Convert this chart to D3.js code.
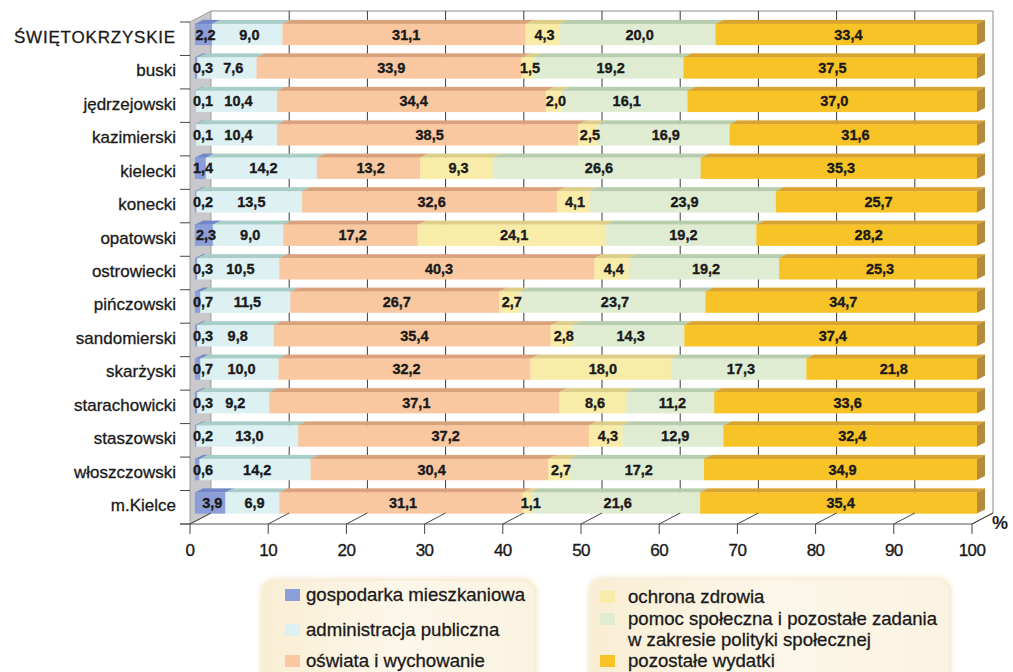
<!DOCTYPE html>
<html><head><meta charset="utf-8">
<script src="https://cdn.jsdelivr.net/npm/d3@7"></script>
<style>
html,body{margin:0;padding:0;background:#fff;}
svg{display:block;font-family:"Liberation Sans",Arial,sans-serif;}
</style></head>
<body><svg id="c" width="1013" height="672"></svg>
<script>
const categories = ["ŚWIĘTOKRZYSKIE","buski","jędrzejowski","kazimierski","kielecki","konecki","opatowski","ostrowiecki","pińczowski","sandomierski","skarżyski","starachowicki","staszowski","włoszczowski","m.Kielce"];
const seriesNames = ["gospodarka mieszkaniowa","administracja publiczna","oświata i wychowanie","ochrona zdrowia","pomoc społeczna i pozostałe zadania w zakresie polityki społecznej","pozostałe wydatki"];
const gospodarka = [2.2,0.3,0.1,0.1,1.4,0.2,2.3,0.3,0.7,0.3,0.7,0.3,0.2,0.6,3.9];
const administracja = [9.0,7.6,10.4,10.4,14.2,13.5,9.0,10.5,11.5,9.8,10.0,9.2,13.0,14.2,6.9];
const oswiata = [31.1,33.9,34.4,38.5,13.2,32.6,17.2,40.3,26.7,35.4,32.2,37.1,37.2,30.4,31.1];
const ochrona = [4.3,1.5,2.0,2.5,9.3,4.1,24.1,4.4,2.7,2.8,18.0,8.6,4.3,2.7,1.1];
const pomoc = [20.0,19.2,16.1,16.9,26.6,23.9,19.2,19.2,23.7,14.3,17.3,11.2,12.9,17.2,21.6];
const pozostale = [33.4,37.5,37.0,31.6,35.3,25.7,28.2,25.3,34.7,37.4,21.8,33.6,32.4,34.9,35.4];
const xTicks = [0,10,20,30,40,50,60,70,80,90,100];

const series = [gospodarka, administracja, oswiata, ochrona, pomoc, pozostale];
const frontCol = ["#8c9ed8","#ddf0f2","#f9c8a0","#f8eca8","#dfecd2","#f8c327"];
const topCol   = ["#7286c9","#a9cec8","#d9a27d","#dccd88","#b8ccae","#d9a331"];
const sideCol = "#b48a3d";
const ink = "#1a1a1a";

const svg = d3.select("#c");
const x0 = 190, x1 = 972, yTop = 22, yBot = 524;
const DX = 21, DY = -11;
const BX = 5, bdx = 8, bdy = -4;
const x = d3.scaleLinear().domain([0,100]).range([x0,x1]);
const y = d3.scaleBand().domain(categories).range([yTop,yBot]).padding(0);

svg.append("path").attr("d", `M${x0},${yTop}L${x0+DX},${yTop+DY}L${x0+DX},${yBot+DY}L${x0},${yBot}Z`)
  .attr("fill","#c9c9cb").attr("stroke","#8a8a8a").attr("stroke-width",0.8);
svg.append("path").attr("d", `M${x0+DX},${yTop+DY}L${x1+DX},${yTop+DY}L${x1+DX},${yBot+DY}`)
  .attr("fill","none").attr("stroke","#8c8c8c").attr("stroke-width",1);
svg.append("g").selectAll("line").data(xTicks.slice(1,-1)).join("line")
  .attr("x1",d=>x(d)+DX).attr("x2",d=>x(d)+DX).attr("y1",yTop+DY).attr("y2",yBot+DY)
  .attr("stroke","#3a3a3a").attr("stroke-width",1);

const stacked = categories.map((c,i)=>{
  let acc = 0;
  return series.map((s,k)=>{ const a=acc; acc+=s[i]; return {cat:c,k,v:s[i],a,b:acc}; });
});
const gb = svg.append("g");
stacked.forEach((segs,i)=>{
  const c = categories[i];
  const fy0 = y(c) + 2, fy1 = y(c) + 23;
  const g = gb.append("g");
  g.selectAll("path.top").data(segs).join("path").attr("class","top")
    .attr("d",d=>{const L=x(d.a)+BX, R=x(d.b)+BX;
      return `M${L},${fy0}L${R},${fy0}L${R+bdx},${fy0+bdy}L${L+bdx},${fy0+bdy}Z`;})
    .attr("fill",d=>topCol[d.k]).attr("stroke",d=>topCol[d.k]).attr("stroke-width",0.3);
  g.selectAll("rect.front").data(segs).join("rect").attr("class","front")
    .attr("x",d=>x(d.a)+BX).attr("y",fy0).attr("width",d=>x(d.b)-x(d.a)).attr("height",fy1-fy0)
    .attr("fill",d=>frontCol[d.k]).attr("stroke",d=>frontCol[d.k]).attr("stroke-width",0.3);
  const R = x(100)+BX;
  g.append("path").attr("d",`M${R},${fy0}L${R+bdx},${fy0+bdy}L${R+bdx},${fy1+bdy}L${R},${fy1}Z`).attr("fill",sideCol);
  const labels = g.selectAll("text").data(segs).join("text")
    .attr("y",(fy0+fy1)/2+5)
    .attr("text-anchor","middle").attr("font-size","14.5px").attr("font-weight","bold").attr("fill",ink)
    .attr("stroke",ink).attr("stroke-width",0.35)
    .text(d=>d.v.toFixed(1).replace(".",","));
  let prevRight = -1e9;
  labels.each(function(d){
    const w = this.getComputedTextLength();
    const L = x(d.a)+BX, R2 = x(d.b)+BX;
    let cx = (L+R2)/2 + 2;
    cx = Math.max(cx, L + w/2 - 2);
    cx = Math.max(cx, prevRight + 10 + w/2);
    d3.select(this).attr("x", cx);
    prevRight = cx + w/2;
  });
});

svg.append("g").selectAll("line").data(d3.range(16)).join("line")
  .attr("x1",180).attr("x2",x0).attr("y1",i=>yTop+i*y.bandwidth()).attr("y2",i=>yTop+i*y.bandwidth())
  .attr("stroke","#444").attr("stroke-width",1);
svg.append("g").selectAll("text").data(categories).join("text")
  .attr("x",176).attr("y",d=>y(d)+y.bandwidth()/2+4)
  .attr("text-anchor","end").attr("font-size","17px").attr("fill",ink)
  .attr("stroke",ink).attr("stroke-width",0.3)
  .attr("letter-spacing",(d,i)=>i===0?"0.8px":null)
  .text(d=>d);

svg.append("path").attr("d",`M180,${yBot}L${x1},${yBot}L${x1+DX},${yBot+DY}`).attr("fill","none").attr("stroke","#555").attr("stroke-width",1);
const gx = svg.append("g");
gx.selectAll("line.v").data(xTicks).join("line").attr("class","v")
  .attr("x1",d=>x(d)).attr("x2",d=>x(d)).attr("y1",yBot).attr("y2",yBot+10).attr("stroke","#444");
gx.selectAll("line.d").data(xTicks).join("line").attr("class","d")
  .attr("x1",d=>x(d)).attr("x2",d=>x(d)+DX).attr("y1",yBot).attr("y2",yBot+DY).attr("stroke","#444");
gx.selectAll("text").data(xTicks).join("text")
  .attr("x",d=>x(d)).attr("y",556).attr("text-anchor","middle").attr("font-size","17px").attr("fill",ink)
  .attr("stroke",ink).attr("stroke-width",0.35)
  .attr("letter-spacing","-0.6px").text(d=>d);
svg.append("text").attr("x",1000).attr("y",529).attr("text-anchor","middle").attr("font-size","18px").attr("font-weight","bold").attr("fill",ink).text("%");

const defs = svg.append("defs");
const lg = defs.append("linearGradient").attr("id","lgBg").attr("x1","0").attr("x2","1").attr("y1","0").attr("y2","0");
lg.append("stop").attr("offset","0").attr("stop-color","#f9eed4");
lg.append("stop").attr("offset","0.5").attr("stop-color","#fdf7ea");
lg.append("stop").attr("offset","1").attr("stop-color","#fbf3e1");
const blur = defs.append("filter").attr("id","soft"); blur.append("feGaussianBlur").attr("stdDeviation",2.5);
[[260,578,277],[588,577,364]].forEach(([bx,by,bw])=>{
  svg.append("rect").attr("x",bx).attr("y",by).attr("width",bw).attr("height",110).attr("rx",14)
    .attr("fill","#f6ead0").attr("filter","url(#soft)");
  svg.append("rect").attr("x",bx+3).attr("y",by+3).attr("width",bw-6).attr("height",110).attr("rx",12)
    .attr("fill","url(#lgBg)");
});
const legendItems = [
  {k:0, x:285, y:595, lines:["gospodarka mieszkaniowa"]},
  {k:1, x:285, y:630, lines:["administracja publiczna"]},
  {k:2, x:285, y:661, lines:["oświata i wychowanie"]},
  {k:3, x:600, y:597, lines:["ochrona zdrowia"]},
  {k:4, x:600, y:619, lines:["pomoc społeczna i pozostałe zadania","w zakresie polityki społecznej"]},
  {k:5, x:600, y:661, lines:["pozostałe wydatki"]}
];
const gl = svg.append("g");
legendItems.forEach(it=>{
  gl.append("rect").attr("x",it.x).attr("y",it.y-6).attr("width",15).attr("height",12).attr("fill",frontCol[it.k]);
  const tx = it.x + (it.k<3?21:28);
  const t = gl.append("text").attr("x",tx).attr("y",it.y+6).attr("font-size","18.6px").attr("fill",ink)
    .attr("stroke",ink).attr("stroke-width",0.3);
  it.lines.forEach((l,j)=>t.append("tspan").attr("x",tx).attr("dy",j?21:0).text(l));
});
</script>
</body></html>
